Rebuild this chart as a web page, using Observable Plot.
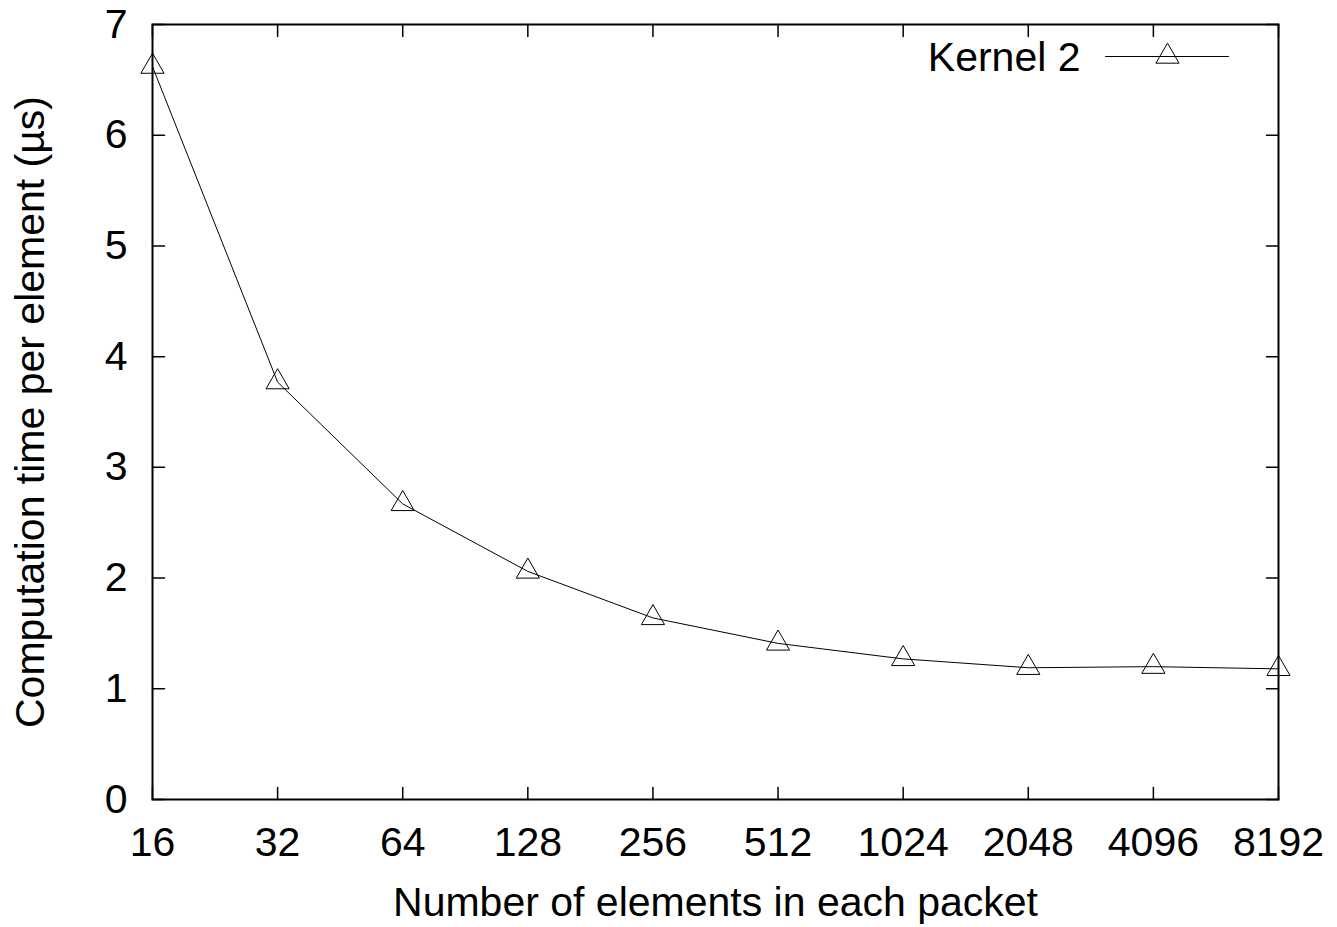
<!DOCTYPE html>
<html>
<head>
<meta charset="utf-8">
<script src="https://cdn.jsdelivr.net/npm/d3@7"></script>
<script src="https://cdn.jsdelivr.net/npm/@observablehq/plot@0.6"></script>
<style>
  html, body { margin: 0; padding: 0; background: white; }
</style>
</head>
<body>
<div id="chart"></div>
<script>
// Data
const packetSizes = [16, 32, 64, 128, 256, 512, 1024, 2048, 4096, 8192];
const kernel2Times = [6.62, 3.77, 2.67, 2.06, 1.64, 1.41, 1.27, 1.19, 1.20, 1.18];
const xTickLabels = ["16", "32", "64", "128", "256", "512", "1024", "2048", "4096", "8192"];
const yTicks = [0, 1, 2, 3, 4, 5, 6, 7];
const seriesName = "Kernel 2";
const xLabel = "Number of elements in each packet";
const yLabel = "Computation time per element (µs)";

const data = packetSizes.map((n, i) => ({n, t: kernel2Times[i]}));

const tickShape = {
  draw(context, l) {
    context.moveTo(0, 0);
    context.lineTo(0, -l);
  }
};

const font = "'Liberation Sans', Arial, Helvetica, sans-serif";
const fs = 41;

const chart = Plot.plot({
  width: 1337,
  height: 927,
  marginLeft: 152,
  marginRight: 59,
  marginTop: 24,
  marginBottom: 128,
  style: {fontFamily: font, fontSize: fs + "px", background: "white", color: "black"},
  x: {type: "log", base: 2, domain: [16, 8192]},
  y: {domain: [0, 7]},
  marks: [
    Plot.axisX({ticks: packetSizes, tickFormat: (d) => xTickLabels[packetSizes.indexOf(d)], tickSize: 0, tickPadding: 27.5, label: null, fontSize: fs}),
    Plot.axisY({ticks: yTicks, tickFormat: (d) => String(d), tickSize: 0, tickPadding: 25, label: null, fontSize: fs}),
    // inward tick marks on all four sides
    Plot.vector(packetSizes, {x: (d) => d, y: 0, length: 12, rotate: 0, anchor: "start", shape: tickShape, stroke: "black", strokeWidth: 1.5}),
    Plot.vector(packetSizes, {x: (d) => d, y: 7, length: 12, rotate: 180, anchor: "start", shape: tickShape, stroke: "black", strokeWidth: 1.5}),
    Plot.vector(yTicks, {x: 16, y: (d) => d, length: 12, rotate: 90, anchor: "start", shape: tickShape, stroke: "black", strokeWidth: 1.5}),
    Plot.vector(yTicks, {x: 8192, y: (d) => d, length: 12, rotate: -90, anchor: "start", shape: tickShape, stroke: "black", strokeWidth: 1.5}),
    Plot.frame({stroke: "black", strokeWidth: 2}),
    // series
    Plot.line(data, {x: "n", y: "t", stroke: "black", strokeWidth: 1}),
    Plot.dot(data, {x: "n", y: "t", symbol: "triangle", r: 8.6, stroke: "black", strokeWidth: 1, fill: "none"}),
    // legend
    Plot.text([seriesName], {frameAnchor: "top-right", textAnchor: "end", lineAnchor: "middle", dx: -198, dy: 33, fontSize: fs, fill: "black"}),
    Plot.vector([seriesName], {frameAnchor: "top-right", dx: -173, dy: 32, length: 123, rotate: 90, anchor: "start", shape: tickShape, stroke: "black", strokeWidth: 1}),
    Plot.dot([seriesName], {frameAnchor: "top-right", dx: -111, dy: 32, symbol: "triangle", r: 8.6, stroke: "black", strokeWidth: 1, fill: "none"}),
    // axis titles
    Plot.text([xLabel], {frameAnchor: "bottom", textAnchor: "middle", lineAnchor: "middle", dy: 103, fontSize: fs, fill: "black"}),
    Plot.text([yLabel], {frameAnchor: "left", textAnchor: "middle", lineAnchor: "middle", dx: -122, rotate: -90, fontSize: fs, fill: "black"})
  ]
});

document.getElementById("chart").appendChild(chart);
</script>
</body>
</html>
